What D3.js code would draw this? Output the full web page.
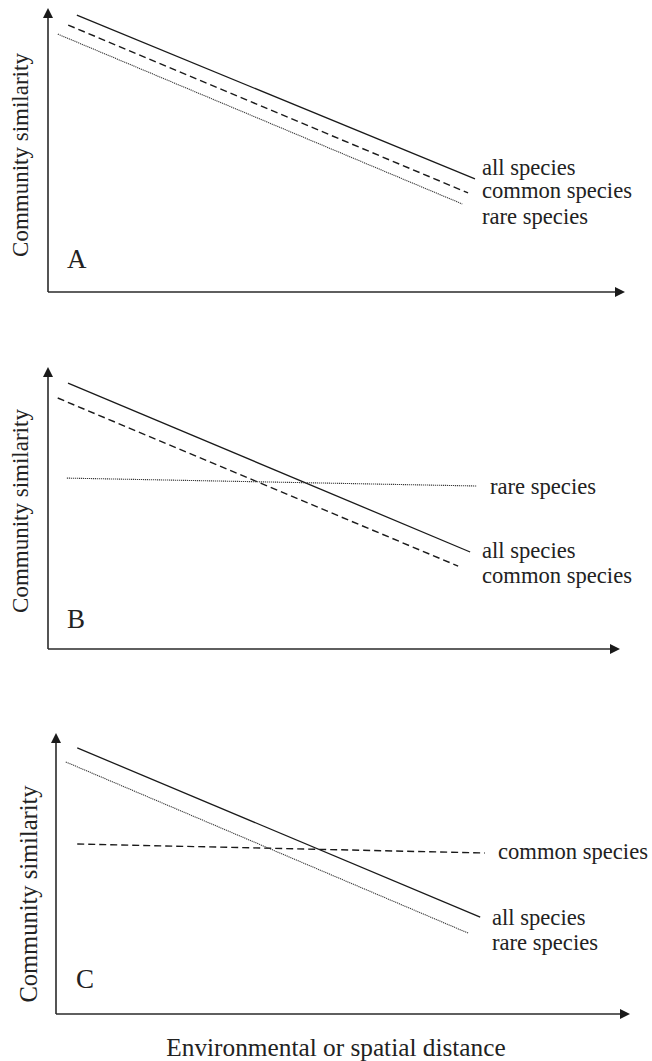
<!DOCTYPE html>
<html>
<head>
<meta charset="utf-8">
<script src="https://cdn.jsdelivr.net/npm/d3@7"></script>
<style>
  body { margin: 0; background: #fff; }
  text { font-family: "Liberation Serif", "Times New Roman", serif; fill: #222; }
</style>
</head>
<body>
<svg id="chart" width="652" height="1061"></svg>
<script>
// conceptual lines, x and y in 0..100 units of each panel
const seriesNames = ["all species", "common species", "rare species"];

// [x0, y0, x1, y1] per series for each panel
const panelA = [[5.0, 97.5, 74.0, 39.8], [3.5, 94.0, 72.8, 34.9], [1.7, 90.8, 71.8, 31.0]];
const panelB = [[3.5, 94.3, 73.8, 34.4], [1.7, 89.0, 71.7, 29.4], [3.3, 60.6, 75.0, 57.8]];
const panelC = [[3.7, 94.7, 73.9, 34.5], [3.7, 60.5, 74.7, 57.3], [1.7, 89.7, 71.8, 28.8]];

// legend order (index into seriesNames), top to bottom
const labelOrderA = [0, 1, 2];
const labelOrderB = [2, 0, 1];
const labelOrderC = [1, 0, 2];

const panelLetters = ["A", "B", "C"];
const yTitle = "Community similarity";
const xTitle = "Environmental or spatial distance";

// styling of each series
const styles = [
  { dash: null, width: 1.3, color: "#1a1a1a" },
  { dash: "7,4", width: 1.4, color: "#1a1a1a" },
  { dash: "1.2,0.8", width: 1.1, color: "#3a3a3a" }
];

// layout of the three panels (pixels)
const layout = [
  { data: panelA, order: labelOrderA, x0: 48, x1: 625, y0: 292, y1: 8,
    lab: [{ x: 482, y: 175 }, { x: 482, y: 198 }, { x: 482, y: 224 }],
    letter: { x: 67, y: 268 }, yt: { x: 28, y: 155, size: 23 } },
  { data: panelB, order: labelOrderB, x0: 48, x1: 620, y0: 649, y1: 367,
    lab: [{ x: 490, y: 494 }, { x: 482, y: 558 }, { x: 482, y: 583 }],
    letter: { x: 67, y: 628 }, yt: { x: 28, y: 511, size: 23 } },
  { data: panelC, order: labelOrderC, x0: 56, x1: 630, y0: 1014, y1: 733,
    lab: [{ x: 498, y: 859 }, { x: 492, y: 925 }, { x: 492, y: 950 }],
    letter: { x: 76, y: 988 }, yt: { x: 37, y: 894, size: 24.5 } }
];

const svg = d3.select("#chart");
svg.append("rect").attr("width", 652).attr("height", 1061).attr("fill", "#fff");

layout.forEach((p, i) => {
  let x = d3.scaleLinear().domain([0, 100]).range([p.x0, p.x1]);
  let y = d3.scaleLinear().domain([0, 100]).range([p.y0, p.y1]);
  let g = svg.append("g").attr("class", "panel");

  // axes with arrow heads
  g.append("line")
    .attr("x1", x(0)).attr("y1", y(0)).attr("x2", x(0)).attr("y2", y(100) + 8)
    .attr("stroke", "#2a2a2a").attr("stroke-width", 1.6);
  g.append("line")
    .attr("x1", x(0)).attr("y1", y(0)).attr("x2", x(100) - 8).attr("y2", y(0))
    .attr("stroke", "#2a2a2a").attr("stroke-width", 1.6);
  g.append("path")
    .attr("d", `M ${x(0)},${y(100)} L ${x(0) - 5},${y(100) + 10} L ${x(0) + 5},${y(100) + 10} Z`)
    .attr("fill", "#1a1a1a");
  g.append("path")
    .attr("d", `M ${x(100)},${y(0)} L ${x(100) - 10},${y(0) - 5} L ${x(100) - 10},${y(0) + 5} Z`)
    .attr("fill", "#1a1a1a");

  // series lines
  g.selectAll("line.series")
    .data(p.data)
    .enter()
    .append("line")
    .attr("class", "series")
    .attr("x1", d => x(d[0])).attr("y1", d => y(d[1]))
    .attr("x2", d => x(d[2])).attr("y2", d => y(d[3]))
    .attr("stroke", (d, k) => styles[k].color)
    .attr("stroke-width", (d, k) => styles[k].width)
    .attr("stroke-dasharray", (d, k) => styles[k].dash);

  // series labels
  g.selectAll("text.lab")
    .data(p.order)
    .enter()
    .append("text")
    .attr("class", "lab")
    .attr("x", (d, k) => p.lab[k].x)
    .attr("y", (d, k) => p.lab[k].y)
    .attr("font-size", 22.6)
    .text(d => seriesNames[d]);

  // panel letter
  g.append("text")
    .attr("x", p.letter.x).attr("y", p.letter.y)
    .attr("font-size", 27)
    .text(panelLetters[i]);

  // y title
  g.append("text")
    .attr("transform", `translate(${p.yt.x},${p.yt.y}) rotate(-90)`)
    .attr("text-anchor", "middle")
    .attr("font-size", p.yt.size)
    .text(yTitle);
});

svg.append("text")
  .attr("x", 336).attr("y", 1056)
  .attr("text-anchor", "middle")
  .attr("font-size", 25.3)
  .text(xTitle);
</script>
</body>
</html>
